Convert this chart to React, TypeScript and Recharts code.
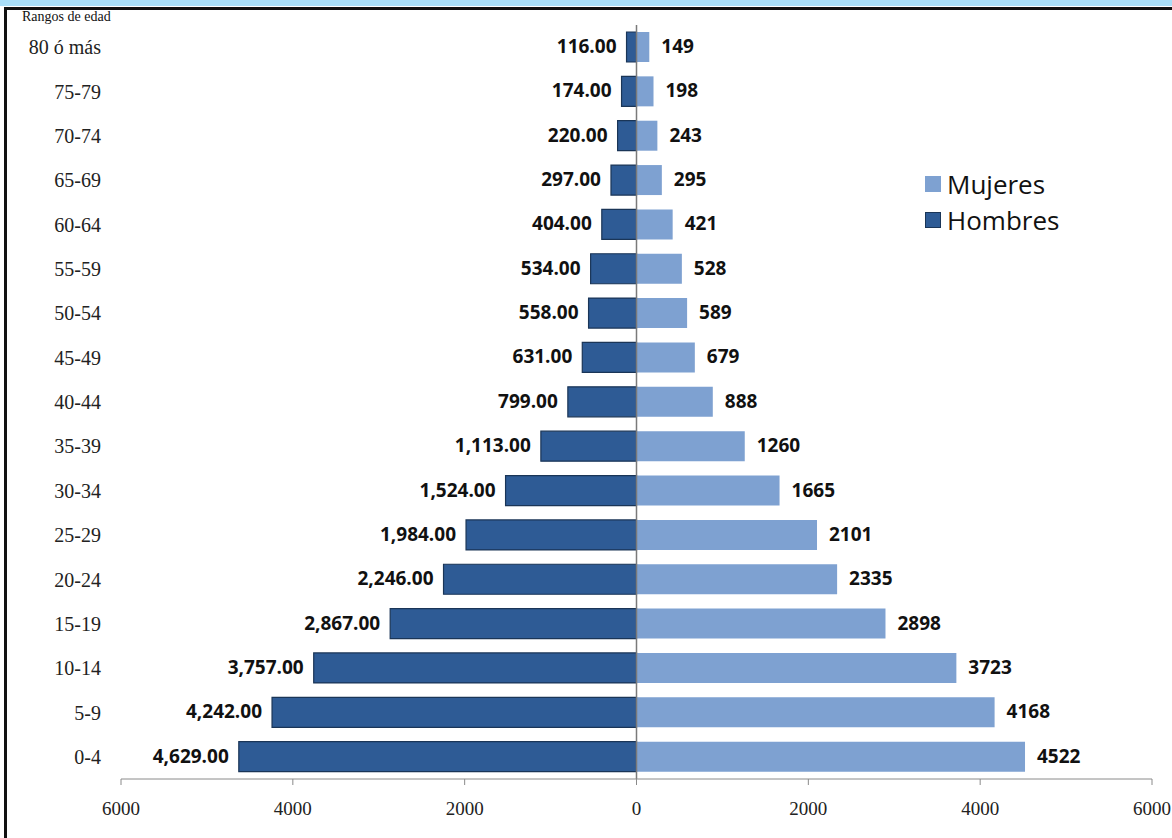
import {
  BarChart, Bar, XAxis, YAxis, LabelList, ReferenceLine,
} from "recharts";

const ageGroups = [
  "80 ó más", "75-79", "70-74", "65-69", "60-64", "55-59", "50-54", "45-49", "40-44",
  "35-39", "30-34", "25-29", "20-24", "15-19", "10-14", "5-9", "0-4",
];
const hombres = [116, 174, 220, 297, 404, 534, 558, 631, 799, 1113, 1524, 1984, 2246, 2867, 3757, 4242, 4629];
const mujeres = [149, 198, 243, 295, 421, 528, 589, 679, 888, 1260, 1665, 2101, 2335, 2898, 3723, 4168, 4522];
const xTicks = [-6000, -4000, -2000, 0, 2000, 4000, 6000];

const DARK = "#2E5B95";
const LIGHT = "#7EA1D1";

// hombres go to the left, so they are stored negative in the chart rows
const data = ageGroups.map((name, i) => ({ name, hombres: -hombres[i], mujeres: mujeres[i] }));

const labelFont = "'Open Sans', 'Liberation Sans', sans-serif";
const serif = "'Liberation Serif', 'DejaVu Serif', serif";

const LeftLabel = (p: any) => {
  const left = Math.min(p.x, p.x + p.width);
  const v = Math.abs(Number(p.value)).toLocaleString("en-US", { minimumFractionDigits: 2, maximumFractionDigits: 2 });
  return (
    <text x={left - 10} y={p.y + p.height / 2} dy={6} textAnchor="end"
      fontFamily={labelFont} fontWeight={700} fontSize={19} fill="#111">{v}</text>
  );
};

const RightLabel = (p: any) => {
  const right = Math.max(p.x, p.x + p.width);
  return (
    <text x={right + 12} y={p.y + p.height / 2} dy={6} textAnchor="start"
      fontFamily={labelFont} fontWeight={700} fontSize={19} fill="#111">{p.value}</text>
  );
};

const legendItems = [
  { label: "Mujeres", color: LIGHT, border: LIGHT },
  { label: "Hombres", color: DARK, border: "#1A3557" },
];

export default function App() {
  return (
    <div style={{ position: "absolute", left: 0, top: 0, width: 1172, height: 838, background: "#fff", overflow: "hidden" }}>
      <div style={{ position: "absolute", left: 0, top: 0, width: 1172, height: 6, background: "#A9DEF8" }} />
      <div style={{ position: "absolute", left: 4, top: 7, width: 1168, height: 3, background: "#111" }} />
      <div style={{ position: "absolute", left: 4, top: 7, width: 3, height: 831, background: "#111" }} />
      <div style={{
        position: "absolute", left: 22, top: 9, fontFamily: serif, fontSize: 14, lineHeight: "16px", color: "#111",
      }}>Rangos de edad</div>
      <BarChart
        width={1172} height={838} data={data} layout="vertical" stackOffset="sign"
        margin={{ top: 25, right: 20, bottom: 29, left: 0 }} barSize={30}
      >
        <XAxis
          type="number" domain={[-6000, 6000]} ticks={xTicks} allowDataOverflow
          tickFormatter={(v: number) => String(Math.abs(v))}
          stroke="#8a8a8a" tickSize={6} tickMargin={17}
          tick={{ fill: "#222", fontFamily: serif, fontSize: 19 }}
        />
        <YAxis
          type="category" dataKey="name" width={121} axisLine={false} tickLine={false}
          tick={{ fill: "#222", fontFamily: serif, fontSize: 20, dx: -12 }}
        />
        <Bar dataKey="hombres" name="Hombres" stackId="a" fill={DARK} stroke="#1A3557" strokeWidth={1.2} isAnimationActive={false}>
          <LabelList dataKey="hombres" content={LeftLabel} />
        </Bar>
        <Bar dataKey="mujeres" name="Mujeres" stackId="a" fill={LIGHT} isAnimationActive={false}>
          <LabelList dataKey="mujeres" content={RightLabel} />
        </Bar>
        <ReferenceLine x={0} stroke="#7a7a7a" strokeWidth={1.5} />
      </BarChart>
      <div style={{
        position: "absolute", left: 925, top: 166, fontFamily: labelFont, fontSize: 26, color: "#111", lineHeight: "36px",
      }}>
        {legendItems.map((it) => (
          <div key={it.label} style={{ display: "flex", alignItems: "center" }}>
            <span style={{
              display: "inline-block", width: 14, height: 14, background: it.color,
              border: `1px solid ${it.border}`, marginRight: 6,
            }} />
            {it.label}
          </div>
        ))}
      </div>
    </div>
  );
}
